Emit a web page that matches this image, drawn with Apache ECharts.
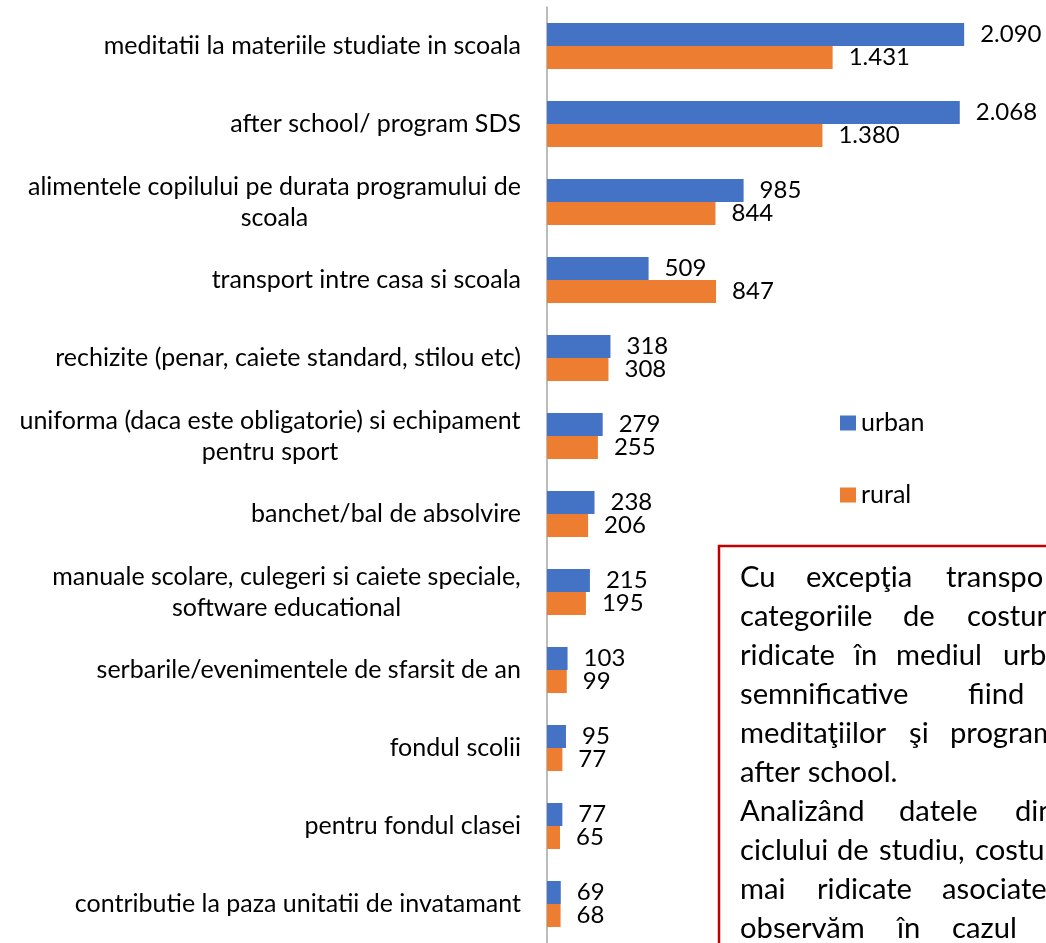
<!DOCTYPE html>
<html>
<head>
<meta charset="utf-8">
<title>Costuri urban / rural</title>
<script src="https://cdn.jsdelivr.net/npm/echarts@6/dist/echarts.min.js"></script>
<style>
  html, body { margin: 0; padding: 0; background: #fff; }
  #main { width: 1046px; height: 943px; }
</style>
</head>
<body>
<div id="main"></div>
<script>
var categories = [
  'meditatii la materiile studiate in scoala',
  'after school/ program SDS',
  'alimentele copilului pe durata programului de\nscoala',
  'transport intre casa si scoala',
  'rechizite (penar, caiete standard, stilou etc)',
  'uniforma (daca este obligatorie) si echipament\npentru sport',
  'banchet/bal de absolvire',
  'manuale scolare, culegeri si caiete speciale,\nsoftware educational',
  'serbarile/evenimentele de sfarsit de an',
  'fondul scolii',
  'pentru fondul clasei',
  'contributie la paza unitatii de invatamant'
];
var seriesNames = ['urban', 'rural'];
var urban = [2090, 2068, 985, 509, 318, 279, 238, 215, 103, 95, 77, 69];
var rural = [1431, 1380, 844, 847, 308, 255, 206, 195, 99, 77, 65, 68];

// text of the note box, one entry per line (words placed as in the justified original)
var noteLines = [
  [['Cu', 740], ['excepţia', 806], ['transpo', 946]],
  [['categoriile', 740], ['de', 903], ['costur', 967]],
  [['ridicate', 740], ['în', 854], ['mediul', 896], ['urb', 1003]],
  [['semnificative', 740], ['fiind', 968]],
  [['meditaţiilor', 740], ['şi', 909], ['program', 950]],
  [['after school.', 740]],
  [['Analizând', 740], ['datele', 899], ['din', 1015]],
  [['ciclului', 740], ['de', 837], ['studiu,', 879], ['costu', 975]],
  [['mai', 740], ['ridicate', 817], ['asociate', 942]],
  [['observăm', 740], ['în', 897], ['cazul', 952]]
];

var FONT = 'Lato';
var AXIS_FONT = 25;
var VALUE_FONT = 24;
var NOTE_FONT = 29.2;

function fmtNum(v) {
  return String(v).replace(/\B(?=(\d{3})+(?!\d))/g, '.');
}

// wrapped labels: lines centred on each other, block right aligned to the axis
var measureCtx = document.createElement('canvas').getContext('2d');
measureCtx.font = AXIS_FONT + 'px ' + FONT;
var richStyles = {};
categories.forEach(function (c, i) {
  var lines = c.split('\n');
  if (lines.length > 1) {
    var w = 0;
    lines.forEach(function (l) {
      w = Math.max(w, measureCtx.measureText(l).width);
    });
    richStyles['c' + i] = {
      width: Math.ceil(w),
      align: 'center',
      fontSize: AXIS_FONT,
      fontFamily: FONT,
      color: '#000',
      lineHeight: 31
    };
  }
});

var noteGraphics = [{
  type: 'rect',
  shape: { x: 719, y: 546, width: 420, height: 460 },
  style: { fill: '#fff', stroke: '#C00000', lineWidth: 2.5 }
}];
noteLines.forEach(function (line, i) {
  line.forEach(function (word) {
    noteGraphics.push({
      type: 'text',
      x: word[1],
      y: 578 + i * 39,
      style: {
        text: word[0],
        font: NOTE_FONT + 'px ' + FONT,
        fill: '#000',
        verticalAlign: 'middle'
      }
    });
  });
});

var chart = echarts.init(document.getElementById('main'));

var option = {
  animation: false,
  textStyle: { fontFamily: FONT },
  legend: {
    orient: 'vertical',
    left: 835,
    top: 405,
    icon: 'rect',
    itemWidth: 16,
    itemHeight: 15,
    itemGap: 46,
    data: seriesNames,
    textStyle: { fontSize: 25, fontFamily: FONT, color: '#000', lineHeight: 26 }
  },
  grid: { left: 547, top: 7, width: 502, height: 943, containLabel: false },
  xAxis: {
    type: 'value',
    min: 0,
    max: 2500,
    show: false
  },
  yAxis: {
    type: 'category',
    inverse: true,
    data: categories,
    axisTick: { show: false },
    axisLine: { lineStyle: { color: '#A6A6A6', width: 1.5 } },
    axisLabel: {
      margin: 26,
      fontSize: AXIS_FONT,
      fontFamily: FONT,
      color: '#000',
      lineHeight: 31,
      formatter: function (v, i) {
        var lines = v.split('\n');
        if (lines.length === 1) return v;
        return lines.map(function (l) { return '{c' + i + '|' + l + '}'; }).join('\n');
      },
      rich: richStyles
    }
  },
  series: [{
    name: seriesNames[0],
    type: 'bar',
    data: urban,
    barGap: '0%',
    barCategoryGap: '41%',
    itemStyle: { color: '#4472C4' },
    label: {
      show: true,
      position: 'right',
      distance: 16,
      fontSize: VALUE_FONT,
      fontFamily: FONT,
      color: '#000',
      formatter: function (p) { return fmtNum(p.value); }
    }
  }, {
    name: seriesNames[1],
    type: 'bar',
    data: rural,
    barGap: '0%',
    barCategoryGap: '41%',
    itemStyle: { color: '#ED7D31' },
    label: {
      show: true,
      position: 'right',
      distance: 16,
      fontSize: VALUE_FONT,
      fontFamily: FONT,
      color: '#000',
      formatter: function (p) { return fmtNum(p.value); }
    }
  }],
  graphic: noteGraphics
};

chart.setOption(option);
</script>
</body>
</html>
